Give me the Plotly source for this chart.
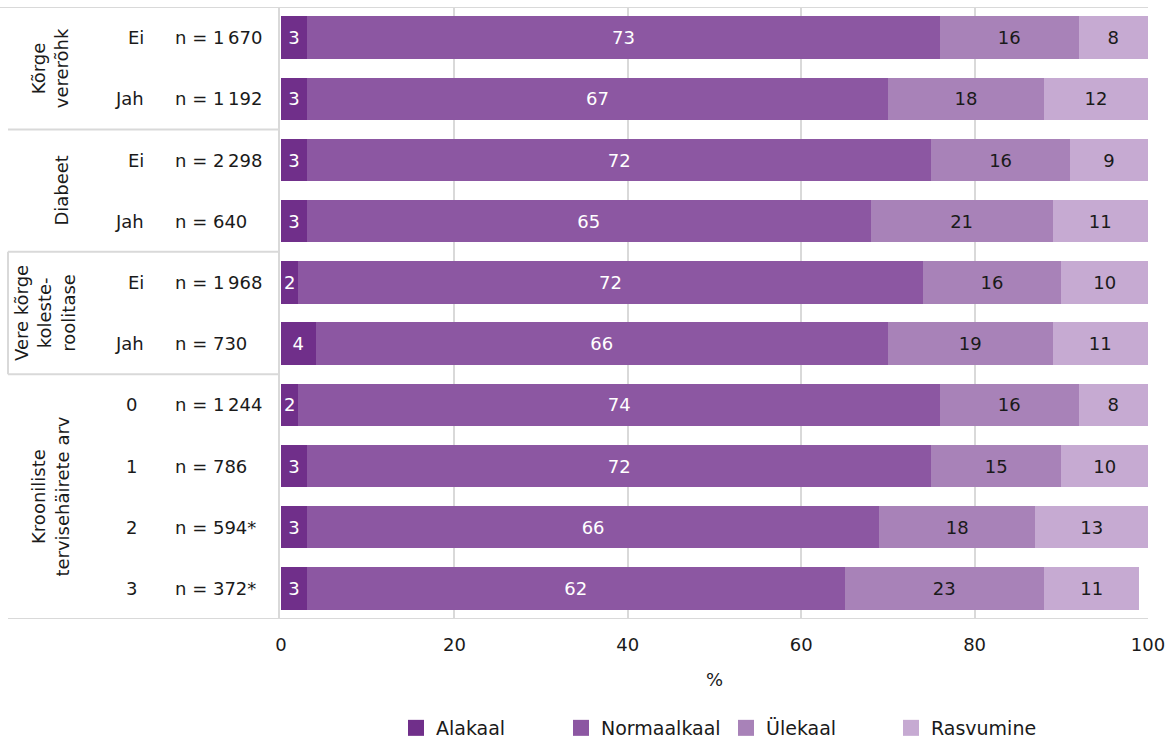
import plotly.graph_objects as go

# Kehamassiindeksi rühmade jaotus (%) riskitegurite kaupa
groups = ["Kõrge<br>vererõhk", "Diabeet", "Vere kõrge<br>koleste-<br>roolitase",
          "Krooniliste<br>tervisehäirete arv"]
group_rows = [[0, 1], [2, 3], [4, 5], [6, 7, 8, 9]]
sub_labels = ["Ei", "Jah", "Ei", "Jah", "Ei", "Jah", "0", "1", "2", "3"]
n_labels = ["n = 1\u2009670", "n = 1\u2009192", "n = 2\u2009298", "n = 640",
            "n = 1\u2009968", "n = 730", "n = 1\u2009244", "n = 786",
            "n = 594*", "n = 372*"]

alakaal = [3, 3, 3, 3, 2, 4, 2, 3, 3, 3]
normaalkaal = [73, 67, 72, 65, 72, 66, 74, 72, 66, 62]
ulekaal = [16, 18, 16, 21, 16, 19, 16, 15, 18, 23]
rasvumine = [8, 12, 9, 11, 10, 11, 8, 10, 13, 11]

series = [
    ("Alakaal", alakaal, "#702f8a", "white"),
    ("Normaalkaal", normaalkaal, "#8c57a2", "white"),
    ("Ülekaal", ulekaal, "#a882b8", "#1a1a1a"),
    ("Rasvumine", rasvumine, "#c6aad2", "#1a1a1a"),
]

FONT = "DejaVu Sans"
TXT = "#1a1a1a"
rows = list(range(len(sub_labels)))

fig = go.Figure()
for name, vals, color, tcolor in series:
    fig.add_trace(go.Bar(
        name=name, x=vals, y=rows, orientation="h",
        marker=dict(color=color, line=dict(width=0)),
        text=[str(v) for v in vals], textposition="inside",
        insidetextanchor="middle", textangle=0,
        textfont=dict(color=tcolor, size=18, family=FONT),
        hoverinfo="x+name", showlegend=False,
    ))
# square legend keys
for name, _, color, _ in series:
    fig.add_trace(go.Scatter(
        name=name, x=[None], y=[None], mode="markers",
        marker=dict(symbol="square", size=21, color=color),
        showlegend=True,
    ))

# pixel helpers for the label columns left of the plot area
L, R, T, B = 281, 22, 7, 123
W = 1170 - L - R


def px(x):
    return (x - L) / W


annotations = []
for i, lab in enumerate(sub_labels):
    if lab.isdigit():
        annotations.append(dict(x=px(131), xanchor="center", y=i, text=lab))
    else:
        annotations.append(dict(x=px(146), xanchor="right", y=i, text=lab))
    annotations.append(dict(x=px(173), xanchor="left", y=i, text=n_labels[i]))

group_x = [50, 62, 45, 50]
for g, r, gx in zip(groups, group_rows, group_x):
    annotations.append(dict(x=px(gx), xanchor="center", y=sum(r) / len(r),
                            text=g, textangle=-90))

for a in annotations:
    a.update(xref="paper", yref="y", showarrow=False, yanchor="middle",
             font=dict(size=18, color=TXT, family=FONT))

line = dict(color="#d9d9d9", width=2)
shapes = [
    dict(type="line", xref="paper", yref="y", x0=px(0), x1=1, y0=-0.5, y1=-0.5, line=line),
    dict(type="line", xref="paper", yref="y", x0=px(8), x1=1, y0=9.5, y1=9.5, line=line),
    dict(type="line", xref="paper", yref="y", x0=px(279), x1=px(279), y0=-0.5, y1=9.5, line=line),
    dict(type="line", xref="paper", yref="y", x0=px(8), x1=px(8), y0=3.5, y1=5.5, line=line),
]
for r in group_rows[:-1]:
    y = r[-1] + 0.5
    shapes.append(dict(type="line", xref="paper", yref="y", x0=px(8), x1=px(279),
                       y0=y, y1=y, line=line))

fig.update_layout(
    barmode="stack", bargap=0.31,
    width=1170, height=742,
    margin=dict(l=L, r=R, t=T, b=B, autoexpand=False),
    paper_bgcolor="white", plot_bgcolor="white",
    font=dict(family=FONT, size=18, color=TXT),
    uniformtext=dict(minsize=18, mode="show"),
    annotations=annotations, shapes=shapes,
    legend=dict(orientation="h", x=px(396), xanchor="left",
                yref="container", y=1 - 728 / 742, yanchor="middle",
                entrywidth=120, entrywidthmode="pixels",
                font=dict(size=19, family=FONT, color=TXT),
                traceorder="normal", itemclick=False),
    xaxis=dict(range=[0, 100], dtick=20, showgrid=True, gridcolor="#d9d9d9",
               gridwidth=2, zeroline=False, showline=False,
               ticks="outside", ticklen=9, tickcolor="rgba(0,0,0,0)",
               tickfont=dict(size=18, family=FONT, color=TXT),
               title=dict(text="%", standoff=19, font=dict(size=18, family=FONT, color=TXT))),
    yaxis=dict(range=[9.5, -0.5], showticklabels=False, showgrid=False,
               zeroline=False, fixedrange=True),
)

fig.write_html("out.html")
